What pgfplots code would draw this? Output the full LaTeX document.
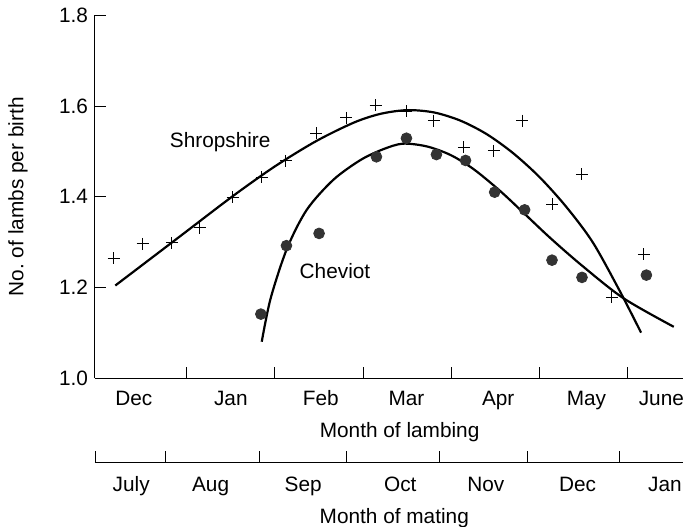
\documentclass[border=0pt]{standalone}
\usepackage{fontspec}
\setmainfont{Liberation Sans}
\usepackage{pgfplots}
\pgfplotsset{compat=1.18}
\newcommand\fs{\fontsize{10.4}{12}\selectfont}
\begin{document}
\begin{tikzpicture}[font=\fs]
\useasboundingbox (-47.5pt,-74pt) rectangle (295pt,189pt);
\begin{axis}[
  at={(0,0)}, anchor=south west,
  scale only axis, width=294pt, height=181.3pt,
  xmin=-0.04, xmax=6.625, ymin=1.0, ymax=1.8,
  axis x line=bottom, axis y line=left,
  axis line style={-, line width=0.5pt, black},
  tick align=inside, major tick length=5.5pt,
  tick style={black, line width=0.5pt},
  xtick={1,2,3,4,5,6}, xticklabels={,,,,,},
  extra x ticks={0.40,1.50,2.52,3.49,4.53,5.53,6.38},
  extra x tick labels={Dec,Jan,Feb,Mar,Apr,May,June},
  extra x tick style={tick style={draw=none}},
  xticklabel style={anchor=base, yshift=-13.5pt},
  ytick={1.0,1.2,1.4,1.6,1.8},
  yticklabel style={/pgf/number format/.cd, fixed, fixed zerofill, precision=1},
  /pgf/number format/assume math mode=true,
  xlabel={Month of lambing},
  xlabel style={at={(axis description cs:0.518,0)}, anchor=base, yshift=-29.7pt},
  ylabel={No.\ of lambs per birth},
  ylabel style={at={(axis description cs:-0.131,0.5)}, anchor=center},
  clip=false,
]
% Shropshire observations
\addplot[only marks, mark=+, mark size=3pt, mark options={line width=0.5pt, black}] coordinates {
(0.17,1.264) (0.50,1.296) (0.83,1.298) (1.15,1.332) (1.52,1.399) (1.85,1.443)
(2.12,1.479) (2.47,1.540) (2.81,1.574) (3.14,1.602) (3.49,1.589) (3.80,1.568)
(4.14,1.509) (4.48,1.501) (4.80,1.568) (5.14,1.383) (5.48,1.449) (5.82,1.178)
(6.18,1.273)};
% Cheviot observations
\addplot[only marks, mark=*, mark size=2.7pt, mark options={fill=black!80, draw=black!80}] coordinates {
(1.84,1.141) (2.13,1.292) (2.50,1.319) (3.15,1.488) (3.49,1.529) (3.83,1.493)
(4.16,1.480) (4.49,1.410) (4.83,1.371) (5.14,1.260) (5.48,1.222) (6.21,1.227)};
% Shropshire fitted curve
\addplot[smooth, line width=1.1pt, black, no markers] coordinates {
(0.19,1.204) (0.96,1.318) (1.52,1.401) (2.00,1.467) (2.47,1.523) (2.90,1.564)
(3.20,1.583) (3.50,1.591) (3.80,1.586) (4.10,1.568) (4.40,1.538) (4.70,1.496)
(5.00,1.443) (5.30,1.378) (5.60,1.300) (5.90,1.195) (6.15,1.100)};
% Cheviot fitted curve
\addplot[smooth, line width=1.1pt, black, no markers] coordinates {
(1.85,1.080) (1.95,1.175) (2.135,1.285) (2.36,1.371) (2.66,1.437) (2.97,1.481)
(3.23,1.505) (3.45,1.517) (3.72,1.511) (3.99,1.492) (4.25,1.461) (4.55,1.413)
(4.82,1.364) (5.12,1.309) (5.48,1.248) (5.95,1.176) (6.52,1.113)};
\node[anchor=base] at (axis cs:1.379,1.509) {Shropshire};
\node[anchor=base] at (axis cs:2.68,1.220) {Cheviot};
\end{axis}
\begin{axis}[
  at={(0,-42pt)}, anchor=south west,
  scale only axis, width=294pt, height=10pt,
  xmin=-0.04, xmax=6.625, ymin=0, ymax=1,
  axis x line=bottom, axis y line=none,
  axis line style={-, line width=0.5pt, black},
  tick align=inside, major tick length=5.5pt,
  tick style={black, line width=0.5pt},
  xtick={-0.035,0.76,1.82,2.81,3.86,4.86,5.91}, xticklabels={,,,,,,},
  extra x ticks={0.37,1.27,2.32,3.42,4.39,5.43,6.42},
  extra x tick labels={July,Aug,Sep,Oct,Nov,Dec,Jan},
  extra x tick style={tick style={draw=none}},
  xticklabel style={anchor=base, yshift=-14.5pt},
  xlabel={Month of mating},
  xlabel style={at={(axis description cs:0.509,0)}, anchor=base, yshift=-30.5pt},
]
\end{axis}
\end{tikzpicture}
\end{document}
